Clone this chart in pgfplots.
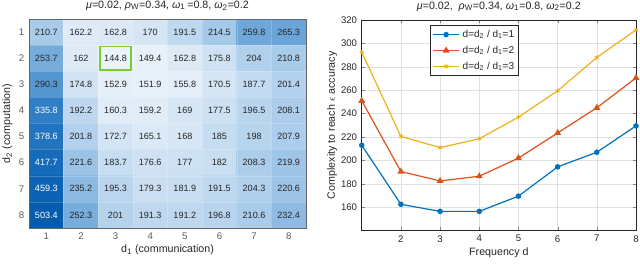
\documentclass[border=0pt]{standalone}
\usepackage{pgfplots}
\pgfplotsset{compat=1.18}
\usepackage{pgfplotstable}
\usepackage{fontspec}
\setmainfont{Liberation Sans}
\definecolor{mblue}{HTML}{0072BD}
\definecolor{mred}{HTML}{D95319}
\definecolor{myel}{HTML}{EDB120}
\definecolor{txt}{HTML}{262626}
\definecolor{boxgreen}{HTML}{77CC33}
\pgfplotstableread{
x y v
1 1 210.7
2 1 162.2
3 1 162.8
4 1 170
5 1 191.5
6 1 214.5
7 1 259.8
8 1 265.3
1 2 253.7
2 2 162
3 2 144.8
4 2 149.4
5 2 162.8
6 2 175.8
7 2 204
8 2 210.8
1 3 290.3
2 3 174.8
3 3 152.9
4 3 151.9
5 3 155.8
6 3 170.5
7 3 187.7
8 3 201.4
1 4 335.8
2 4 192.2
3 4 160.3
4 4 159.2
5 4 169
6 4 177.5
7 4 196.5
8 4 208.1
1 5 378.6
2 5 201.8
3 5 172.7
4 5 165.1
5 5 168
6 5 185
7 5 198
8 5 207.9
1 6 417.7
2 6 221.6
3 6 183.7
4 6 176.6
5 6 177
6 6 182
7 6 208.3
8 6 219.9
1 7 459.3
2 7 235.2
3 7 195.3
4 7 179.3
5 7 181.9
6 7 191.5
7 7 204.3
8 7 220.6
1 8 503.4
2 8 252.3
3 8 201
4 8 191.3
5 8 191.2
6 8 196.8
7 8 210.6
8 8 232.4
}\hmdata
\pgfplotstableread{
d c1 c2 c3
1 213 251 292.5
2 162.5 190.5 220.5
3 156.5 182.5 211
4 156.5 186.5 218.5
5 169.5 202 237
6 194.5 223.5 259.5
7 207 245 288
8 229.5 270.5 311.5
}\linedata
\begin{document}
\begin{tikzpicture}
\useasboundingbox (0,0) rectangle (480pt,198pt);
\pgfplotsset{
  every axis/.append style={
    /pgf/number format/assume math mode=true,
    tick label style={font=\fontsize{7.2}{8}\selectfont, text=txt},
    label style={font=\fontsize{8}{9}\selectfont, text=txt},
    title style={font=\fontsize{8}{9}\selectfont, text=txt},
  }
}
% Heatmap
\begin{axis}[
  at={(21.75pt,27pt)}, anchor=south west,
  scale only axis, width=207.75pt, height=156.75pt,
  xmin=0.5, xmax=8.5, ymin=0.5, ymax=8.5,
  y dir=reverse,
  xtick={1,...,8}, ytick={1,...,8},
  major tick length=0pt, minor tick length=0pt,
  minor xtick={1.5,2.5,...,7.5}, minor ytick={1.5,2.5,...,7.5},
  minor grid style={white, opacity=0.2, line width=0.3pt},
  xminorgrids, yminorgrids,
  axis on top,
  axis line style={black!60},
  tick label style={text=black!65},
  colormap={hmmap}{rgb255(145)=(236,243,250) rgb255(160)=(224,236,247) rgb255(180)=(203,223,242) rgb255(210)=(170,204,234) rgb255(260)=(110,167,217) rgb255(335)=(48,126,197) rgb255(420)=(20,106,185) rgb255(504)=(6,92,172)},
  point meta min=145, point meta max=504,
  title={{\itshape μ}=0.02, {\itshape ρ}\textsubscript{W}=0.34, {\itshape ω}\textsubscript{1}\,=0.8, {\itshape ω}\textsubscript{2}=0.2},
  title style={yshift=-3pt},
  xlabel={d\textsubscript{1} (communication)},
  ylabel={d\textsubscript{2} (computation)},
  xlabel style={yshift=3pt},
  ylabel style={yshift=-2pt},
]
\addplot[matrix plot*, mesh/cols=8, point meta=explicit] table[x=x, y=y, meta=v] {\hmdata};
\addplot[only marks, mark=none, point meta=explicit symbolic,
  nodes near coords, nodes near coords align={center},
  every node near coord/.style={font=\fontsize{6.8}{7}\selectfont, text=txt, inner sep=0pt},
  restrict expr to domain={\thisrow{v}}{0:300}] table[x=x, y=y, meta=v] {\hmdata};
\addplot[only marks, mark=none, point meta=explicit symbolic,
  nodes near coords, nodes near coords align={center},
  every node near coord/.style={font=\fontsize{6.8}{7}\selectfont, text=white, inner sep=0pt},
  restrict expr to domain={\thisrow{v}}{300:1000}] table[x=x, y=y, meta=v] {\hmdata};
\addplot[boxgreen, line width=1.3pt] coordinates {(2.55,1.55) (3.45,1.55) (3.45,2.45) (2.55,2.45) (2.55,1.55)};
\end{axis}
% Line chart
\begin{axis}[
  at={(271.3pt,25pt)}, anchor=south west,
  scale only axis, width=205.7pt, height=158pt,
  xmin=1, xmax=8, ymin=140, ymax=320,
  xtick={2,...,8}, ytick={160,180,...,320},
  grid=major, grid style={black!12, line width=0.4pt},
  tick align=inside, major tick length=2.5pt,
  axis line style={black!85},
  title={{\itshape μ}=0.02,\ \ {\itshape ρ}\textsubscript{W}=0.34, {\itshape ω}\textsubscript{1}=0.8, {\itshape ω}\textsubscript{2}=0.2},
  title style={yshift=-3pt},
  xlabel={Frequency d},
  ylabel={Complexity to reach $\epsilon$ accuracy},
  xlabel style={yshift=3pt},
  ylabel style={yshift=-4pt},
  legend style={at={(0.249,0.976)}, anchor=north west, font=\fontsize{7.5}{8.5}\selectfont, draw=black!85, inner sep=1.5pt, row sep=1pt, text=txt},
  legend cell align=left,
  legend image code/.code={\draw[mark repeat=2, mark phase=2] plot coordinates {(0cm,0cm) (0.35cm,0cm) (0.7cm,0cm)};},
]
\addplot[mblue, line width=0.9pt, mark=*, mark size=1.6pt] table[x=d, y=c1] {\linedata};
\addlegendentry{d=d\textsubscript{2} / d\textsubscript{1}=1}
\addplot[mred, line width=0.9pt, mark=triangle*, mark size=2.1pt] table[x=d, y=c2] {\linedata};
\addlegendentry{d=d\textsubscript{2} / d\textsubscript{1}=2}
\addplot[myel, line width=0.9pt, mark=asterisk, mark size=1.8pt, mark options={line width=0.6pt}] table[x=d, y=c3] {\linedata};
\addlegendentry{d=d\textsubscript{2} / d\textsubscript{1}=3}
\end{axis}
\end{tikzpicture}
\end{document}
